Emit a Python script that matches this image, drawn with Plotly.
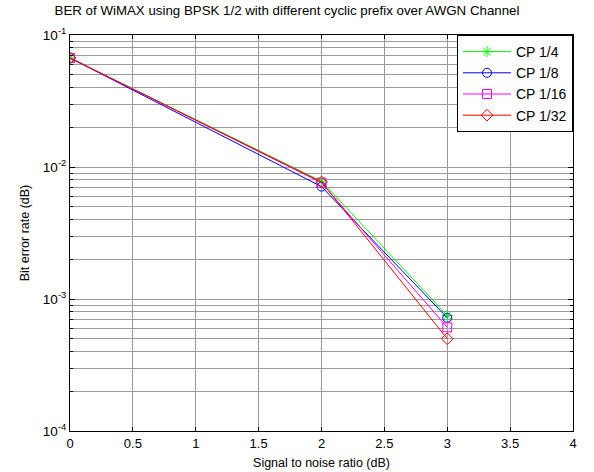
import plotly.graph_objects as go

snr = [0, 2, 3]
ber_cp4 = [0.067, 0.0078, 0.00075]
ber_cp8 = [0.067, 0.0071, 0.00072]
ber_cp16 = [0.067, 0.0076, 0.00061]
ber_cp32 = [0.067, 0.0077, 0.00050]
names = ["CP 1/4", "CP 1/8", "CP 1/16", "CP 1/32"]
colors = ["#00ff00", "#0000ff", "#ff00ff", "#ff0000"]
symbols = ["asterisk-open", "circle-open", "square-open", "diamond-open"]
xticks = [0, 0.5, 1, 1.5, 2, 2.5, 3, 3.5, 4]
yticks = [1e-4, 1e-3, 1e-2, 1e-1]
ytext = ["10<sup>-4</sup>", "10<sup>-3</sup>", "10<sup>-2</sup>", "10<sup>-1</sup>"]

W, H = 594, 472
L, R, T, B = 70, 21, 35, 41

fig = go.Figure()
for name, ys, c, s in zip(names, [ber_cp4, ber_cp8, ber_cp16, ber_cp32], colors, symbols):
    fig.add_trace(go.Scatter(x=snr, y=ys, name=name, mode="lines+markers",
                             line=dict(color=c, width=1),
                             marker=dict(symbol=s, size=9, color=c, line=dict(color=c, width=1))))

minor_y = [m * 10 ** e for e in (-4, -3, -2) for m in range(2, 10)]
FAM = "Liberation Sans, Arial"
font = dict(family=FAM, size=13, color="black")
grid = "#9a9a9a"

fig.update_layout(
    width=W, height=H,
    margin=dict(l=L, r=R, t=T, b=B, autoexpand=False),
    paper_bgcolor="white", plot_bgcolor="white",
    font=font,
    title=dict(text="BER of WiMAX using BPSK 1/2 with different cyclic prefix over AWGN Channel",
               x=287 / W, xanchor="center", xref="container",
               y=1 - 10 / H, yanchor="middle", yref="container",
               font=dict(family=FAM, size=13.3, color="black")),
    xaxis=dict(range=[0, 4], tickvals=xticks, ticktext=[("%g" % v) for v in xticks],
               showgrid=True, gridcolor=grid, gridwidth=1, automargin=False,
               showline=True, linecolor="black", linewidth=1, mirror="ticks",
               ticks="inside", ticklen=4, tickcolor="black", zeroline=False,
               tickfont=dict(family=FAM, size=13),
               title=dict(text="Signal to noise ratio (dB)", standoff=8,
                          font=dict(family=FAM, size=12.5))),
    yaxis=dict(type="log", range=[-4, -1], tickvals=yticks, ticktext=ytext,
               showgrid=True, gridcolor=grid, gridwidth=1, automargin=False,
               showline=True, linecolor="black", linewidth=1, mirror="ticks",
               ticks="inside", ticklen=5, tickcolor="black", zeroline=False,
               tickfont=dict(family=FAM, size=13.5),
               minor=dict(tickvals=minor_y, showgrid=True, gridcolor=grid,
                          gridwidth=1, ticks="inside", ticklen=3, tickcolor="black"),
               title=dict(text="Bit error rate (dB)", standoff=10,
                          font=dict(family=FAM, size=12.5))),
    legend=dict(x=1, xanchor="right", y=1, yanchor="top",
                bgcolor="white", bordercolor="black", borderwidth=1,
                font=dict(family=FAM, size=14, color="black"),
                itemwidth=48, tracegroupgap=0),
    showlegend=True,
)

fig.write_html("out.html", config={"displayModeBar": False},
               post_script="document.body.style.margin='0';document.body.style.padding='0';")
